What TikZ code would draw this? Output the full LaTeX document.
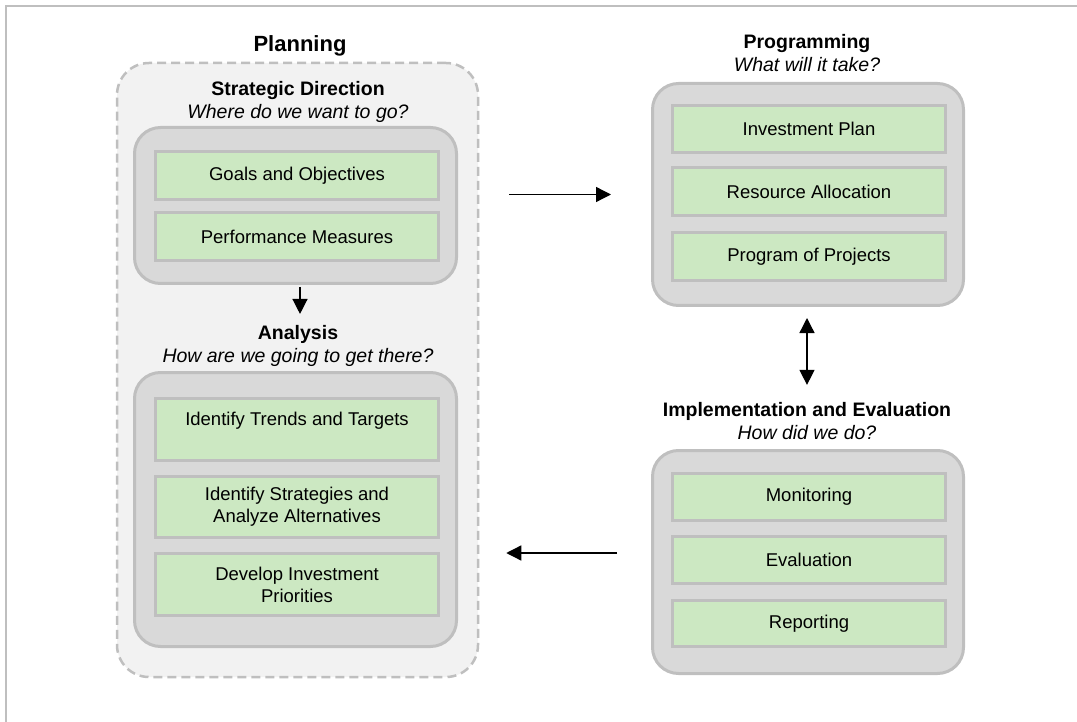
\documentclass[tikz,border=0pt]{standalone}
\usepackage{fontspec}
\setmainfont{Liberation Sans}
\usetikzlibrary{arrows.meta}

\definecolor{boxgreen}{RGB}{204,232,194}
\definecolor{boxgray}{RGB}{217,217,217}
\definecolor{linegray}{RGB}{191,191,191}
\definecolor{planfill}{RGB}{242,242,242}

\tikzset{
  planbox/.style={draw=linegray, fill=planfill, line width=2.5pt, dash pattern=on 9pt off 5pt, rounded corners=32pt},
  graybox/.style={draw=linegray, fill=boxgray, line width=3pt, rounded corners=26pt},
  greenbox/.style={draw=linegray, fill=boxgreen, line width=3pt, align=center, inner sep=0pt,
    font=\fontsize{18.5}{22}\selectfont},
  headtitle/.style={align=center, inner sep=0pt, font=\fontsize{19.5}{23.5}\selectfont},
  arr/.style={line width=1.3pt, -{Triangle[length=15pt,width=15pt]}},
  dblarr/.style={line width=1.3pt, {Triangle[length=15pt,width=15pt]}-{Triangle[length=15pt,width=15pt]}}
}

\begin{document}
\begin{tikzpicture}[x=1pt,y=-1pt]
\useasboundingbox (0,0) rectangle (1077,722);
% frame
\draw [linegray, line width=2.5pt] (1077,6) -- (6,6) -- (6,722);

% planning
\node (planttl) at (300,46) [inner sep=0pt, font=\fontsize{22}{26}\selectfont\bfseries] {Planning};
\node (plan) at (297.5,370) [planbox, minimum width=361pt, minimum height=614pt] {};

\node (stratttl) at (298,102) [headtitle] {\textbf{Strategic Direction}\\\textit{Where do we want to go?}};
\node (strat) at (295.5,205.5) [graybox, minimum width=322pt, minimum height=156pt] {};
\node (goals) at (297,175.5) [greenbox, minimum width=283pt, minimum height=48pt] {Goals and Objectives};
\node (perf) at (297,237) [greenbox, minimum width=283pt, minimum height=48pt] {Performance Measures};

\node (anattl) at (298,346) [headtitle] {\textbf{Analysis}\\\textit{How are we going to get there?}};
\node (ana) at (295.5,509.5) [graybox, minimum width=322pt, minimum height=274pt] {};
\node (trends) at (297,429.5) [greenbox, minimum width=283pt, minimum height=62pt] {Identify Trends and Targets\\\mbox{}};
\node (strats) at (297,507) [greenbox, minimum width=283pt, minimum height=61pt] {Identify Strategies and\\Analyze Alternatives};
\node (prior) at (297,584.5) [greenbox, minimum width=283pt, minimum height=62pt] {Develop Investment\\Priorities};

% programming
\node (progttl) at (807,53) [headtitle] {\textbf{Programming}\\\textit{What will it take?}};
\node (prog) at (808,194.5) [graybox, minimum width=311pt, minimum height=222pt] {};
\node (invest) at (809,129) [greenbox, minimum width=273pt, minimum height=47pt] {Investment Plan};
\node (resource) at (809,191.5) [greenbox, minimum width=273pt, minimum height=48pt] {Resource Allocation};
\node (projects) at (809,256.5) [greenbox, minimum width=273pt, minimum height=48pt] {Program of Projects};

% implementation and evaluation
\node (implttl) at (807,421) [headtitle] {\textbf{Implementation and Evaluation}\\\textit{How did we do?}};
\node (impl) at (808,562) [graybox, minimum width=311pt, minimum height=223pt] {};
\node (monitor) at (809,497) [greenbox, minimum width=273pt, minimum height=47pt] {Monitoring};
\node (evalu) at (809,560) [greenbox, minimum width=273pt, minimum height=47pt] {Evaluation};
\node (report) at (809,623.5) [greenbox, minimum width=273pt, minimum height=46pt] {Reporting};

% connectors
\coordinate (downout) at ([xshift=4.5pt]strat.south);
\coordinate (backout) at ([yshift=9pt]impl.west);
\draw [arr, shorten <=2pt, shorten >=11pt] (downout) -- (downout |- anattl.north);
\draw [arr, shorten <=30pt, shorten >=40pt] (plan.east |- prog.west) -- (prog.west);
\draw [dblarr, shorten <=11pt, shorten >=17pt] (implttl.north |- prog.south) -- (implttl.north);
\draw [arr, shorten <=34pt, shorten >=27pt] (backout) -- (plan.east |- backout);
\end{tikzpicture}
\end{document}
